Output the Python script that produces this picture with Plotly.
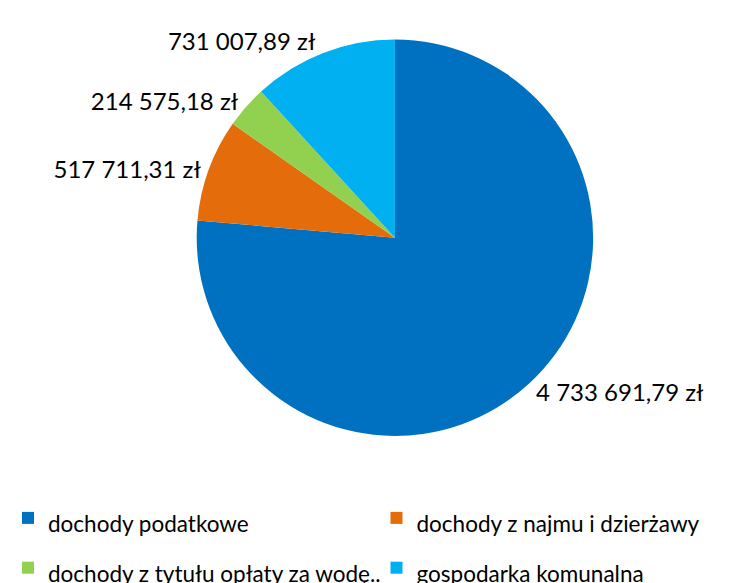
import plotly.graph_objects as go

categories = ["dochody podatkowe", "dochody z najmu i dzierżawy",
              "dochody z tytułu opłaty za wodę..", "gospodarka komunalna"]
values = [4733691.79, 517711.31, 214575.18, 731007.89]
value_labels = ["4 733 691,79 zł", "517 711,31 zł", "214 575,18 zł", "731 007,89 zł"]
colors = ["#0070C0", "#E46C0A", "#92D050", "#00B0F0"]

legend_labels = ['<span style="font-size:22.5px">%s</span>' % c for c in categories]

fig = go.Figure(go.Pie(
    labels=legend_labels,
    values=values,
    text=value_labels,
    textinfo="text",
    textposition="outside",
    sort=False,
    direction="clockwise",
    rotation=0,
    automargin=False,
    marker=dict(colors=colors, line=dict(width=0)),
    outsidetextfont=dict(size=24, color="#000000", family="Lato"),
    domain=dict(x=[0.061, 0.989], y=[0.266, 0.946]),
    hoverinfo="label+value",
))

fig.update_layout(
    width=737, height=583,
    margin=dict(l=0, r=0, t=0, b=0, pad=0, autoexpand=False),
    paper_bgcolor="white",
    font=dict(family="Lato", size=20, color="#000000"),
    showlegend=True,
    legend=dict(orientation="h", x=0.0, y=-0.012, xanchor="left", yanchor="bottom",
                entrywidth=0.5, entrywidthmode="fraction",
                bgcolor="rgba(0,0,0,0)",
                font=dict(size=36, family="Lato")),
)

fig.write_html("out.html")
